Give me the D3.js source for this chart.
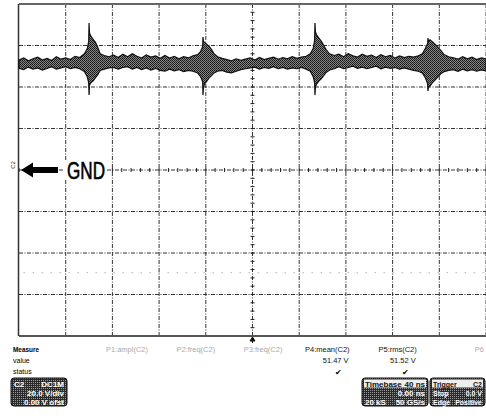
<!DOCTYPE html>
<html>
<head>
<meta charset="utf-8">
<script src="https://cdn.jsdelivr.net/npm/d3@7/dist/d3.min.js"></script>
<style>
  html, body { margin: 0; padding: 0; background: #fff; }
  text { font-family: "Liberation Sans", Arial, sans-serif; }
</style>
</head>
<body>
<div id="chart"></div>
<script>
// scope settings: 40 ns/div, 20 V/div, GND in the middle
var gridTimes = [0, 40, 80, 120, 160, 200, 240, 280, 320, 360, 400];
var gridVolts = [-80, -60, -40, -20, 0, 20, 40, 60, 80];

// C2 trace envelope (ns, upper V, lower V)
var timeNs = [0, 4, 8, 12, 16, 20, 24, 28, 32, 36, 40, 44, 48, 52,
  56, 58.5, 59.7, 60, 60.4, 61.5, 63.5, 65.5, 67.5, 69.5, 73, 77,
  81, 85, 89, 93, 97, 101, 105, 109, 113, 117, 121, 125, 129, 133, 137, 141, 145, 149,
  153, 155.5, 157.3, 157.6, 158, 159, 161, 163, 165, 167, 170, 174,
  178, 182, 186, 190, 194, 198, 202, 206, 210, 214, 218, 222, 226, 230, 234, 238, 242, 246,
  249.5, 252, 253.2, 253.5, 253.9, 255, 257, 259, 261, 263, 266, 270,
  274, 278, 282, 286, 290, 294, 298, 302, 306, 310, 314, 318, 322, 326, 330, 334, 338, 342,
  345.5, 348, 350, 350.3, 350.7, 352, 354, 356.5, 359, 361.5, 364, 368,
  372, 376, 380, 384, 388, 392, 396, 400];
var voltHigh = [53.0, 54.0, 52.6, 53.6, 54.4, 53.0, 53.8, 52.8, 54.6, 53.4, 54.0, 53.2, 54.8, 54.2,
  56.0, 58.5, 62.0, 70.8, 66.0, 64.5, 63.0, 61.5, 59.0, 56.0, 55.2, 54.6,
  55.4, 54.2, 55.8, 54.6, 56.0, 54.8, 54.0, 55.4, 54.4, 55.0, 53.8, 55.2, 54.0, 54.8, 53.6, 54.6, 54.0, 55.0,
  55.6, 57.0, 59.5, 64.1, 62.0, 61.5, 60.5, 59.5, 58.0, 56.0, 54.6, 53.8,
  53.2, 52.6, 53.6, 52.8, 53.4, 54.0, 53.0, 54.2, 53.2, 53.8, 54.4, 53.4, 54.2, 53.6, 54.6, 53.8, 54.4, 54.8,
  56.0, 58.5, 62.5, 70.8, 66.5, 65.0, 63.5, 62.0, 60.0, 58.0, 56.0, 55.2,
  55.8, 54.6, 56.0, 55.0, 54.4, 55.8, 54.8, 55.4, 54.2, 55.6, 54.6, 55.2, 54.0, 55.0, 54.2, 54.8, 54.4, 55.0,
  56.0, 58.5, 61.0, 63.6, 62.0, 62.7, 61.8, 60.5, 59.0, 57.5, 55.6, 54.6,
  54.0, 53.4, 54.6, 53.6, 54.4, 53.2, 54.0, 53.6];
var voltLow = [49.0, 48.4, 49.6, 48.6, 49.2, 48.2, 49.0, 49.8, 48.6, 49.2, 49.8, 48.8, 49.4, 48.8,
  47.5, 45.0, 42.0, 36.1, 41.0, 42.0, 43.0, 44.5, 46.0, 48.0, 48.6, 49.2,
  49.4, 48.6, 49.4, 49.8, 48.6, 49.4, 48.4, 49.2, 48.2, 49.0, 48.0, 47.6, 48.6, 47.8, 48.4, 47.4, 48.0, 47.6,
  46.8, 45.0, 42.5, 36.1, 40.0, 41.5, 43.0, 44.5, 45.5, 46.8, 47.6, 48.0,
  47.2, 46.8, 47.6, 48.4, 48.8, 49.2, 49.6, 48.6, 49.4, 49.0, 49.8, 48.8, 49.4, 48.6, 49.2, 48.8, 49.4, 48.6,
  47.6, 45.0, 42.0, 36.1, 40.0, 41.5, 43.0, 44.0, 45.5, 47.0, 48.2, 48.8,
  49.8, 48.8, 49.4, 50.0, 49.0, 49.6, 48.8, 49.4, 50.0, 48.8, 49.6, 49.0, 49.4, 48.6, 49.2, 48.6, 48.0, 47.6,
  46.8, 44.5, 41.5, 38.1, 40.0, 40.5, 42.0, 43.5, 45.0, 46.5, 47.4, 48.0,
  48.4, 47.6, 48.6, 47.8, 48.4, 47.6, 48.2, 47.8];

// measurement row
var paramLabels = ["P1:ampl(C2)", "P2:freq(C2)", "P3:freq(C2)", "P4:mean(C2)", "P5:rms(C2)", "P6"];
var paramValues = ["", "", "", "51.47 V", "51.52 V", ""];
var paramActive = [false, false, false, true, true, false];

var width = 486, height = 416;
var x = d3.scaleLinear().domain([0, 400]).range([19, 486]);
var y = d3.scaleLinear().domain([-80, 80]).range([336, 4]);

var svg = d3.select("#chart").append("svg")
  .attr("width", width)
  .attr("height", height)
  .style("display", "block");

var defs = svg.append("defs");
var dith = defs.append("pattern").attr("id", "dith")
  .attr("width", 2).attr("height", 2).attr("patternUnits", "userSpaceOnUse");
dith.append("rect").attr("width", 2).attr("height", 2).attr("fill", "#888");
dith.append("rect").attr("width", 1).attr("height", 1).attr("fill", "#111");
dith.append("rect").attr("x", 1).attr("y", 1).attr("width", 1).attr("height", 1).attr("fill", "#222");

var dark = defs.append("pattern").attr("id", "dark")
  .attr("width", 2).attr("height", 2).attr("patternUnits", "userSpaceOnUse");
dark.append("rect").attr("width", 2).attr("height", 2).attr("fill", "#2a2a2a");
dark.append("rect").attr("width", 1).attr("height", 1).attr("fill", "#9a9a9a");

// graticule
var grid = svg.append("g");
grid.selectAll("line.v").data(gridTimes.slice(1)).enter().append("line")
  .attr("x1", function(d) { return x(d); }).attr("x2", function(d) { return x(d); })
  .attr("y1", y(80)).attr("y2", y(-80))
  .attr("stroke", "#333").attr("stroke-width", 1)
  .attr("stroke-dasharray", "4,1.5,1,1.5");
grid.selectAll("line.h").data(gridVolts.slice(1, -1)).enter().append("line")
  .attr("x1", x(0)).attr("x2", x(400))
  .attr("y1", function(d) { return y(d); }).attr("y2", function(d) { return y(d); })
  .attr("stroke", "#333").attr("stroke-width", 1)
  .attr("stroke-dasharray", "4,1.5,1,1.5");

// faint dotted row
grid.append("line")
  .attr("x1", x(4)).attr("x2", x(400))
  .attr("y1", y(-49.5)).attr("y2", y(-49.5))
  .attr("stroke", "#888").attr("stroke-width", 1)
  .attr("stroke-dasharray", "1,8");

// minor ticks on the centre axes
grid.selectAll("line.mv").data(d3.range(-80, 81, 4)).enter().append("line")
  .attr("x1", x(200) - 2).attr("x2", x(200) + 2)
  .attr("y1", function(d) { return y(d); }).attr("y2", function(d) { return y(d); })
  .attr("stroke", "#222");
grid.selectAll("line.mh").data(d3.range(0, 401, 8)).enter().append("line")
  .attr("x1", function(d) { return x(d); }).attr("x2", function(d) { return x(d); })
  .attr("y1", y(0) - 2).attr("y2", y(0) + 2)
  .attr("stroke", "#222");

// frame
svg.append("line").attr("x1", x(0)).attr("x2", x(400)).attr("y1", y(80)).attr("y2", y(80))
  .attr("stroke", "#666").attr("stroke-width", 2);
svg.append("line").attr("x1", x(0)).attr("x2", x(400)).attr("y1", y(-80)).attr("y2", y(-80))
  .attr("stroke", "#555").attr("stroke-width", 2);
svg.append("line").attr("x1", x(0) - 0.5).attr("x2", x(0) - 0.5).attr("y1", y(80)).attr("y2", y(-80))
  .attr("stroke", "#333").attr("stroke-width", 1.5);

// trace
var band = d3.area()
  .x(function(i) { return x(timeNs[i]); })
  .y0(function(i) { return y(voltLow[i]); })
  .y1(function(i) { return y(voltHigh[i]); });
svg.append("path")
  .datum(d3.range(timeNs.length))
  .attr("d", band)
  .attr("fill", "url(#dith)")
  .attr("stroke", "#111")
  .attr("stroke-width", 1.2)
  .attr("stroke-linejoin", "miter");

// trigger marker
svg.append("path")
  .attr("d", "M" + x(200) + "," + (y(-80) + 1) + "l-2.5,4h5z M" + x(200) + "," + (y(-80) + 4) + "v3")
  .attr("fill", "#111").attr("stroke", "#111");

// GND marker
var gy = y(0);
svg.append("text").attr("transform", "translate(15," + (gy - 5) + ") rotate(-90)")
  .attr("font-size", 6).attr("text-anchor", "middle").attr("fill", "#333").text("C2");
svg.append("path")
  .attr("d", "M21," + gy + "L33," + (gy - 7.5) + "V" + (gy - 3) + "H58V" + (gy + 3) + "H33V" + (gy + 7.5) + "Z")
  .attr("fill", "#000");
svg.append("rect").attr("x", 63).attr("y", gy - 9).attr("width", 44).attr("height", 19).attr("fill", "#fff");
svg.append("text").attr("x", 67).attr("y", gy + 8.5)
  .attr("font-size", 23).attr("textLength", 38).attr("lengthAdjust", "spacingAndGlyphs")
  .attr("fill", "#000").attr("stroke", "#000").attr("stroke-width", 0.6).text("GND");

// measurement table
var mx = d3.scalePoint().domain(paramLabels).range([148, 484]);
svg.append("text").attr("x", 13).attr("y", 352).attr("font-size", 7.5).attr("font-weight", "bold")
  .attr("textLength", 26).attr("lengthAdjust", "spacingAndGlyphs").text("Measure");
svg.append("text").attr("x", 13).attr("y", 363).attr("font-size", 7).text("value");
svg.append("text").attr("x", 13).attr("y", 374).attr("font-size", 7).text("status");

var cols = svg.selectAll("g.param").data(paramLabels).enter().append("g")
  .attr("transform", function(d) { return "translate(" + mx(d) + ",0)"; });
cols.append("text").attr("y", 352).attr("text-anchor", "end").attr("font-size", 7.5)
  .attr("fill", function(d, i) { return paramActive[i] ? "#111" : "#aaa"; })
  .text(function(d) { return d; });
cols.append("text").attr("x", -1).attr("y", 363).attr("text-anchor", "end").attr("font-size", 7.5)
  .attr("fill", "#111").text(function(d, i) { return paramValues[i]; });
cols.filter(function(d, i) { return paramActive[i]; }).append("text")
  .attr("x", -15).attr("y", 375).attr("font-size", 8).attr("font-family", "DejaVu Sans")
  .attr("fill", "#000").text("\u2714");

// descriptor boxes
function box(x0, w, fs, rows) {
  var g = svg.append("g").attr("transform", "translate(" + x0 + ",378)");
  g.append("rect").attr("width", w).attr("height", 28).attr("rx", 3)
    .attr("fill", "url(#dark)").attr("stroke", "#111");
  rows.forEach(function(r, i) {
    if (r.band) {
      g.append("rect").attr("x", 2).attr("y", 1.5).attr("width", w - 4).attr("height", 8).attr("fill", "#eee");
    }
    var c = r.band ? "#111" : "#fff";
    g.append("text").attr("x", 3).attr("y", 8.5 + i * 9).attr("font-size", fs).attr("font-weight", "bold")
      .attr("fill", c).text(r.left);
    g.append("text").attr("x", w - 3).attr("y", 8.5 + i * 9).attr("text-anchor", "end")
      .attr("font-size", fs).attr("font-weight", "bold").attr("fill", c).text(r.right);
  });
  return g;
}
box(11, 56, 8, [{ left: "C2", right: "DC1M" }, { left: "", right: "20.0 V/div" }, { left: "", right: "0.00 V ofst" }]);
box(362, 66, 8, [{ left: "Timebase", right: "40 ns", band: true }, { left: "", right: "0.00 ns" }, { left: "20 kS", right: "50 GS/s" }]);
box(430, 55, 7, [{ left: "Trigger", right: "C2", band: true }, { left: "Stop", right: "0.0 V" }, { left: "Edge", right: "Positive" }]);
</script>
</body>
</html>
